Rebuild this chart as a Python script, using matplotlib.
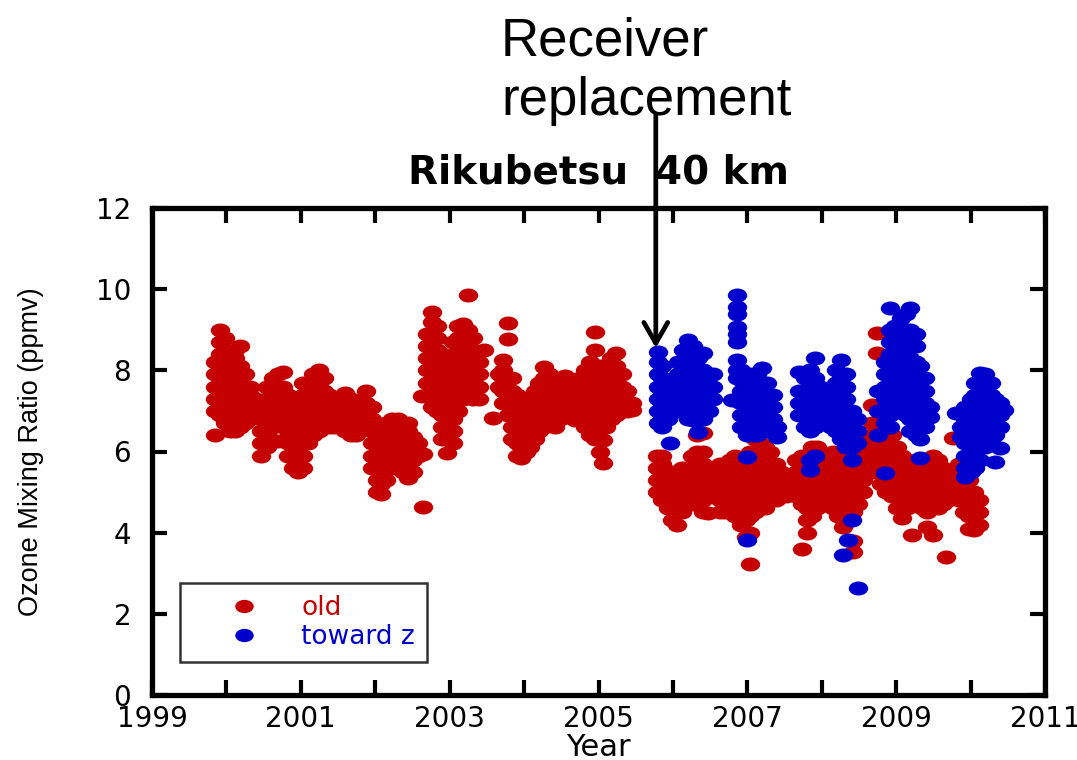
import matplotlib
matplotlib.use('Agg')
import matplotlib.pyplot as plt
from matplotlib.path import Path
from matplotlib.transforms import Affine2D

# ozone at 40 km: (decimal year, [values in ppmv])
old_1999_2000 = [
    (1999.85, [6.4, 7.0, 7.3, 7.6, 7.9, 8.2]),
    (1999.92, [6.9, 7.2, 7.5, 7.8, 8.1, 8.4, 8.7, 9.0]),
    (1999.98, [6.7, 7.0, 7.3, 7.6, 7.9, 8.2, 8.5, 8.8]),
    (2000.05, [6.5, 6.8, 7.1, 7.4, 7.7, 8.0, 8.3]),
    (2000.12, [6.5, 6.8, 7.1, 7.4, 7.7, 8.0, 8.3, 8.5]),
    (2000.18, [6.6, 6.9, 7.2, 7.5, 7.8, 8.1, 8.6]),
    (2000.25, [6.7, 7.0, 7.3, 7.6, 7.9]),
    (2000.32, [6.8, 7.1, 7.4, 7.6]),
    (2000.40, [6.9, 7.1, 7.3]),
    (2000.47, [5.9, 6.2, 6.5, 6.8, 7.1]),
    (2000.55, [6.1, 6.4, 6.7, 7.0, 7.3, 7.6]),
    (2000.62, [6.6, 6.9, 7.2, 7.5, 7.8]),
    (2000.69, [6.25, 6.9, 7.2, 7.5, 7.9]),
    (2000.76, [6.7, 7.0, 7.3, 7.6, 7.95]),
    (2000.83, [5.9, 6.2, 6.5, 6.8, 7.1, 7.4]),
    (2000.90, [5.6, 5.9, 6.2, 6.5, 6.8, 7.1]),
    (2000.96, [5.5, 5.8, 6.1, 6.4, 6.7, 7.0, 7.3]),
]
old_2001_2002 = [
    (2001.03, [5.6, 5.9, 6.2, 6.5, 6.8, 7.1, 7.4, 7.7]),
    (2001.10, [6.2, 6.5, 6.8, 7.1, 7.4, 7.7]),
    (2001.17, [6.4, 6.7, 7.0, 7.3, 7.6, 7.9]),
    (2001.24, [6.5, 6.8, 7.1, 7.4, 7.7, 8.0]),
    (2001.31, [6.6, 6.9, 7.2, 7.5, 7.8]),
    (2001.38, [6.6, 6.9, 7.2, 7.4]),
    (2001.45, [6.6, 6.9, 7.1]),
    (2001.52, [6.6, 6.8, 7.0, 7.2]),
    (2001.60, [6.5, 6.8, 7.1, 7.45]),
    (2001.67, [6.4, 6.7, 7.0, 7.3]),
    (2001.74, [6.4, 6.7, 7.0]),
    (2001.81, [6.7, 7.0, 7.2]),
    (2001.88, [6.6, 6.9, 7.2, 7.5]),
    (2001.95, [5.6, 5.9, 6.2, 6.5, 6.8, 7.1]),
    (2002.02, [5.0, 5.3, 5.6, 5.9, 6.2, 6.5]),
    (2002.08, [4.95, 5.2, 5.5, 5.8, 6.1, 6.4]),
    (2002.15, [5.3, 5.6, 5.9, 6.2, 6.5, 6.7]),
    (2002.22, [5.6, 5.9, 6.2, 6.5, 6.8]),
    (2002.30, [5.8, 6.1, 6.4, 6.8]),
    (2002.37, [5.5, 5.8, 6.1, 6.4, 6.7]),
    (2002.44, [5.35, 5.6, 5.9, 6.2, 6.5, 6.7]),
    (2002.51, [5.5, 5.8, 6.1, 6.35]),
    (2002.58, [5.9, 6.2]),
    (2002.64, [4.63, 5.95]),
]
old_2003 = [
    (2002.63, [7.37]),
    (2002.70, [7.4, 7.7, 8.0, 8.3, 8.6, 8.9]),
    (2002.76, [7.1, 7.4, 7.7, 8.0, 8.3, 8.6, 8.9, 9.2, 9.43]),
    (2002.83, [7.0, 7.3, 7.6, 7.9, 8.2, 8.5, 8.8, 9.1]),
    (2002.90, [6.3, 6.6, 6.9, 7.2, 7.5, 7.8, 8.1, 8.4]),
    (2002.97, [5.96, 6.3, 6.6, 6.9, 7.2, 7.5, 7.9, 8.2]),
    (2003.04, [6.2, 6.5, 6.8, 7.1, 7.4, 7.7, 8.0, 8.3, 8.7]),
    (2003.11, [7.0, 7.3, 7.6, 7.9, 8.2, 8.5, 8.8, 9.1]),
    (2003.18, [7.3, 7.6, 7.9, 8.2, 8.5, 8.8, 9.15]),
    (2003.25, [7.4, 7.7, 8.0, 8.3, 8.6, 9.0, 9.86]),
    (2003.32, [7.3, 7.6, 7.9, 8.2, 8.5, 8.8]),
    (2003.40, [7.3, 7.6, 7.9, 8.2]),
    (2003.46, [8.5]),
    (2003.58, [6.83]),
    (2003.66, [7.6, 7.9]),
    (2003.72, [7.2, 7.5, 7.8, 8.0, 8.25]),
    (2003.78, [6.9, 7.2, 7.5, 7.8, 8.76, 9.17]),
    (2003.84, [6.3, 6.6, 6.9, 7.2, 7.5, 7.8]),
    (2003.90, [5.9, 6.2, 6.5, 6.8, 7.1, 7.4]),
    (2003.96, [5.84, 6.1, 6.4, 6.7, 7.0, 7.3]),
]
old_2004_2005 = [
    (2004.02, [6.0, 6.3, 6.6, 6.9, 7.2]),
    (2004.08, [6.1, 6.4, 6.7, 7.0, 7.3]),
    (2004.14, [6.3, 6.6, 6.9, 7.2, 7.5]),
    (2004.20, [6.5, 6.8, 7.1, 7.4, 7.7]),
    (2004.27, [6.6, 6.9, 7.2, 7.5, 7.8, 8.08]),
    (2004.34, [6.7, 7.0, 7.3, 7.6, 7.9]),
    (2004.41, [6.6, 6.9, 7.2, 7.5, 7.7]),
    (2004.48, [6.8, 7.1, 7.4, 7.7]),
    (2004.55, [7.0, 7.3, 7.6, 7.85]),
    (2004.62, [6.85, 7.1, 7.4]),
    (2004.68, [6.78, 7.0, 7.3, 7.6]),
    (2004.75, [6.9, 7.2, 7.5, 7.8]),
    (2004.82, [6.6, 6.9, 7.2, 7.5, 7.8, 8.0]),
    (2004.89, [6.4, 6.7, 7.0, 7.3, 7.6, 7.9, 8.2]),
    (2004.95, [6.3, 6.6, 6.9, 7.2, 7.5, 7.8, 8.1, 8.5, 8.95]),
    (2005.02, [6.0, 6.3, 6.6, 6.9, 7.2, 7.5, 7.8, 8.1]),
    (2005.06, [5.72, 6.28]),
    (2005.10, [6.6, 6.9, 7.2, 7.5, 7.8, 8.1]),
    (2005.17, [6.8, 7.1, 7.4, 7.7, 8.0, 8.3]),
    (2005.24, [6.9, 7.2, 7.5, 7.8, 8.1, 8.43]),
    (2005.31, [7.0, 7.3, 7.6, 7.9]),
    (2005.38, [7.0, 7.2, 7.5]),
    (2005.45, [7.02, 7.2]),
]
old_2006_2007 = [
    (2005.79, [5.0, 5.3, 5.6, 5.9]),
    (2005.86, [4.8, 5.1, 5.4, 5.7, 5.9]),
    (2005.93, [4.6, 4.9, 5.2, 5.5]),
    (2005.99, [4.3, 4.6, 4.9, 5.2, 5.5]),
    (2006.05, [4.2, 4.5, 4.8, 5.1, 5.4]),
    (2006.12, [4.5, 4.8, 5.1, 5.4, 5.6]),
    (2006.19, [4.7, 5.0, 5.3, 5.6]),
    (2006.26, [4.7, 5.0, 5.3, 5.6, 5.9]),
    (2006.33, [4.8, 5.1, 5.4, 5.7, 6.0, 6.4]),
    (2006.40, [4.5, 4.8, 5.1, 5.4, 5.7, 6.0, 6.45]),
    (2006.47, [4.48, 4.9, 5.2, 5.5]),
    (2006.63, [4.5, 4.8, 5.1, 5.4, 5.7]),
    (2006.70, [4.5, 4.8, 5.1, 5.4, 5.7]),
    (2006.77, [4.6, 4.9, 5.2, 5.5, 5.8]),
    (2006.84, [4.4, 4.7, 5.0, 5.3, 5.6, 5.9]),
    (2006.91, [4.2, 4.5, 4.8, 5.1, 5.4, 5.7]),
    (2006.98, [3.9, 4.3, 4.6, 4.9, 5.2, 5.5, 5.8]),
    (2007.04, [3.23, 4.0, 4.4, 4.7, 5.0, 5.3, 5.6, 6.0]),
    (2007.10, [4.5, 4.8, 5.1, 5.4, 5.7, 6.0, 6.3]),
    (2007.17, [4.7, 5.0, 5.3, 5.6, 5.9, 6.2]),
    (2007.24, [4.6, 4.9, 5.2, 5.5, 5.8, 6.1]),
    (2007.31, [4.8, 5.1, 5.4, 5.7, 6.0]),
    (2007.38, [4.8, 5.1, 5.4, 5.7]),
    (2007.45, [4.9, 5.2, 5.5]),
    (2007.52, [4.9, 5.2, 5.4]),
    (2007.59, [5.0, 5.3]),
]
old_2008_2010 = [
    (2007.66, [4.9, 5.2, 5.5, 5.8]),
    (2007.73, [3.6, 4.7, 5.0, 5.3, 5.6, 5.9]),
    (2007.80, [4.0, 4.3, 4.6, 4.9, 5.2, 5.5, 5.8]),
    (2007.87, [4.4, 4.7, 5.0, 5.3, 5.6, 5.9, 6.1]),
    (2007.94, [4.6, 4.9, 5.2, 5.5, 5.8, 6.1]),
    (2008.01, [4.9, 5.2, 5.5, 5.8]),
    (2008.08, [4.8, 5.1, 5.4, 5.7]),
    (2008.15, [4.6, 4.9, 5.2, 5.5, 5.8, 6.0]),
    (2008.22, [4.4, 4.7, 5.0, 5.3, 5.6, 5.9]),
    (2008.29, [4.14, 4.5, 4.8, 5.1, 5.4, 5.7]),
    (2008.36, [4.3, 4.6, 4.9, 5.2, 5.5]),
    (2008.42, [3.52, 3.8, 4.5, 4.8, 5.1, 5.4, 5.7]),
    (2008.49, [4.7, 5.0, 5.3, 5.6, 5.9]),
    (2008.56, [5.0, 5.3, 5.6, 5.9, 6.2]),
    (2008.67, [5.5, 5.8, 6.1, 6.4, 6.7, 7.15]),
    (2008.74, [5.6, 5.9, 6.2, 6.5, 8.43, 8.92]),
    (2008.80, [5.2, 5.5, 5.8, 6.1, 6.4]),
    (2008.87, [5.0, 5.3, 5.6, 5.9, 6.2]),
    (2008.94, [4.9, 5.2, 5.5, 5.8, 6.1, 6.4]),
    (2009.01, [4.6, 4.9, 5.2, 5.5, 5.8, 6.1]),
    (2009.08, [4.36, 4.7, 5.0, 5.3, 5.6, 5.9]),
    (2009.15, [4.6, 4.9, 5.2, 5.5, 5.8]),
    (2009.21, [3.95, 4.7, 5.0, 5.3, 5.6]),
    (2009.28, [4.8, 5.1, 5.4, 5.7]),
    (2009.35, [4.6, 4.9, 5.2, 5.5]),
    (2009.42, [4.14, 4.5, 4.8, 5.1, 5.4, 5.7]),
    (2009.49, [3.95, 4.7, 5.0, 5.3, 5.6, 5.9]),
    (2009.56, [4.6, 4.9, 5.2, 5.5, 5.8]),
    (2009.63, [4.7, 5.0, 5.3, 5.6]),
    (2009.67, [3.4]),
    (2009.70, [4.8, 5.1, 5.4]),
    (2009.77, [4.9, 5.2, 5.5, 6.33]),
    (2009.84, [4.8, 5.1, 5.4, 5.7]),
    (2009.91, [4.5, 4.8, 5.1, 5.4, 5.8]),
    (2009.98, [4.1, 4.4, 4.7, 5.0, 5.3]),
    (2010.05, [4.07, 4.4, 4.7, 5.0]),
    (2010.11, [4.2, 4.5, 4.8]),
]

new_2006_2007 = [
    (2005.80, [6.7, 7.0, 7.3, 7.6, 7.9, 8.2, 8.45]),
    (2005.86, [6.6, 6.9, 7.2, 7.5, 7.8, 8.1]),
    (2005.93, [6.8, 7.1, 7.4, 7.7]),
    (2005.96, [6.2]),
    (2006.01, [7.1, 7.4, 7.7]),
    (2006.07, [7.0, 7.3, 7.6, 7.9, 8.2]),
    (2006.13, [7.0, 7.3, 7.6, 7.9, 8.2, 8.5]),
    (2006.20, [6.8, 7.1, 7.4, 7.7, 8.0, 8.3, 8.75]),
    (2006.27, [6.78, 7.1, 7.4, 7.7, 8.0, 8.3, 8.6]),
    (2006.34, [6.48, 6.8, 7.1, 7.4, 7.7, 8.0, 8.3]),
    (2006.41, [6.8, 7.1, 7.4, 7.7, 8.0, 8.43]),
    (2006.48, [7.0, 7.3, 7.6, 7.9]),
    (2006.54, [7.3, 7.6, 7.9]),
    (2006.80, [7.27]),
    (2006.86, [7.8, 8.0, 8.25, 8.7, 8.9, 9.07, 9.4, 9.57, 9.86]),
    (2006.92, [6.6, 6.9, 7.2, 7.5, 7.75, 8.0]),
    (2006.99, [5.87, 6.4, 6.7, 7.0, 7.3, 7.6]),
    (2007.00, [3.82]),
    (2007.06, [6.4, 6.7, 7.0, 7.3, 7.6, 7.9]),
    (2007.13, [6.4, 6.7, 7.0, 7.3, 7.6, 7.9]),
    (2007.20, [6.5, 6.8, 7.1, 7.4, 7.7, 8.06]),
    (2007.27, [6.5, 6.8, 7.1, 7.4, 7.7]),
    (2007.34, [6.5, 6.8, 7.1, 7.4]),
    (2007.40, [6.36, 6.6]),
]
new_2008 = [
    (2007.70, [6.9, 7.2, 7.5, 7.96]),
    (2007.77, [6.6, 6.9, 7.2, 7.5, 7.8]),
    (2007.84, [5.55, 5.8, 6.5, 6.8, 7.1, 7.4, 7.7, 8.0]),
    (2007.91, [5.9, 6.6, 6.9, 7.2, 7.5, 7.8, 8.3]),
    (2007.98, [6.7, 7.0, 7.3, 7.6]),
    (2008.05, [6.7, 7.0, 7.3]),
    (2008.12, [6.6, 6.9, 7.2, 7.5]),
    (2008.19, [6.5, 6.8, 7.1, 7.4, 7.7, 8.0]),
    (2008.26, [6.3, 6.6, 6.9, 7.2, 7.5, 7.8, 8.25]),
    (2008.28, [3.45]),
    (2008.33, [6.1, 6.4, 6.7, 7.0, 7.3, 7.6, 7.9]),
    (2008.35, [3.82]),
    (2008.40, [4.3, 5.8, 6.1, 6.4, 6.7, 7.0]),
    (2008.47, [6.2, 6.5, 6.8]),
    (2008.49, [2.64]),
]
new_2009_2010 = [
    (2008.76, [6.4, 7.0, 7.5]),
    (2008.85, [5.47, 6.7, 7.0, 7.3, 7.6, 7.9, 8.2]),
    (2008.92, [6.6, 6.9, 7.2, 7.5, 7.8, 8.1, 8.4, 8.7, 9.0, 9.53]),
    (2008.99, [7.0, 7.3, 7.6, 7.9, 8.2, 8.5, 8.8, 9.1]),
    (2009.06, [7.2, 7.5, 7.8, 8.1, 8.4, 8.7, 9.0, 9.3]),
    (2009.13, [6.9, 7.2, 7.5, 7.8, 8.1, 8.4, 8.7, 9.0, 9.4]),
    (2009.19, [6.5, 6.8, 7.1, 7.4, 7.7, 8.0, 8.3, 8.6, 9.0, 9.53]),
    (2009.26, [6.4, 6.7, 7.0, 7.3, 7.6, 7.9, 8.2, 8.6, 8.9]),
    (2009.32, [5.84, 6.3, 6.6, 6.9, 7.2, 7.5, 7.8, 8.1]),
    (2009.39, [6.6, 6.9, 7.2, 7.5, 7.8]),
    (2009.45, [6.85, 7.1]),
    (2009.80, [6.95]),
    (2009.87, [6.36, 6.6]),
    (2009.93, [5.37, 5.6, 5.9, 6.2, 6.5, 6.8, 7.1]),
    (2010.00, [5.5, 5.8, 6.1, 6.4, 6.7, 7.0, 7.3]),
    (2010.06, [5.6, 5.9, 6.2, 6.5, 6.8, 7.1, 7.4, 7.7]),
    (2010.13, [5.8, 6.1, 6.4, 6.7, 7.0, 7.3, 7.6, 7.93]),
    (2010.20, [6.1, 6.4, 6.7, 7.0, 7.3, 7.6, 7.9]),
    (2010.27, [6.2, 6.5, 6.8, 7.1, 7.4, 7.7]),
    (2010.33, [5.74, 6.4, 6.7, 7.0, 7.3]),
    (2010.40, [6.08, 6.6, 6.9, 7.2]),
    (2010.45, [7.02]),
]

replacement_year = 2005.77
red = '#C40000'
blue = '#0000CC'


def flatten(*blocks):
    t, v = [], []
    for block in blocks:
        for year, vals in block:
            t += [year] * len(vals)
            v += vals
    return t, v


old_t, old_v = flatten(old_1999_2000, old_2001_2002, old_2003, old_2004_2005,
                       old_2006_2007, old_2008_2010)
new_t, new_v = flatten(new_2006_2007, new_2008, new_2009_2010)

# flattened ellipse marker
ellipse = Path.unit_circle().transformed(Affine2D().scale(1.0, 0.72))

fig = plt.figure(figsize=(10.77, 7.6), dpi=100)
ax = fig.add_axes([152 / 1077, 65 / 760, 893 / 1077, 487 / 760])

ax.plot(old_t, old_v, linestyle='none', marker=ellipse, markersize=14,
        color=red, markeredgewidth=0, label='old')
ax.plot(new_t, new_v, linestyle='none', marker=ellipse, markersize=14,
        color=blue, markeredgewidth=0, label='toward z')

ax.set_xlim(1999, 2011)
ax.set_ylim(0, 12)
ax.set_xticks(range(1999, 2012, 2))
ax.set_xticks(range(2000, 2011, 2), minor=True)
ax.set_yticks(range(0, 13, 2))
ax.tick_params(which='both', direction='in', top=True, right=True,
               length=11, width=3, labelsize=20)
ax.tick_params(axis='y', pad=15)
ax.tick_params(axis='x', pad=7)
for sp in ax.spines.values():
    sp.set_linewidth(3.8)

ax.set_xlabel('Year', fontsize=22, labelpad=0)
ax.set_ylabel('Ozone Mixing Ratio (ppmv)', fontsize=19.5,
              fontfamily='Liberation Sans')
ax.yaxis.set_label_coords(-0.121, 0.5)
ax.set_title('Rikubetsu  40 km', fontsize=28, fontweight='bold', pad=18)

leg = ax.legend(loc='lower left', bbox_to_anchor=(0.031, 0.068),
                borderaxespad=0, fontsize=19, numpoints=1, markerscale=0.95,
                handlelength=4.0, handletextpad=0.15, borderpad=0.45,
                labelspacing=0.1, fancybox=False, labelcolor='linecolor')
leg.get_frame().set_edgecolor('black')
leg.get_frame().set_linewidth(1.8)

ax.annotate('', xy=(replacement_year, 8.55), xytext=(replacement_year, 14.3),
            annotation_clip=False,
            arrowprops=dict(arrowstyle='->,head_length=0.75,head_width=0.43',
                            lw=3.4, color='black', mutation_scale=20,
                            shrinkA=0, shrinkB=0))
fig.text(501 / 1077, 1 - 55 / 760, 'Receiver', fontsize=38,
         fontfamily='Liberation Sans', va='baseline')
fig.text(501 / 1077, 1 - 115 / 760, 'replacement', fontsize=38,
         fontfamily='Liberation Sans', va='baseline')

fig.savefig('out.png', dpi=100)
